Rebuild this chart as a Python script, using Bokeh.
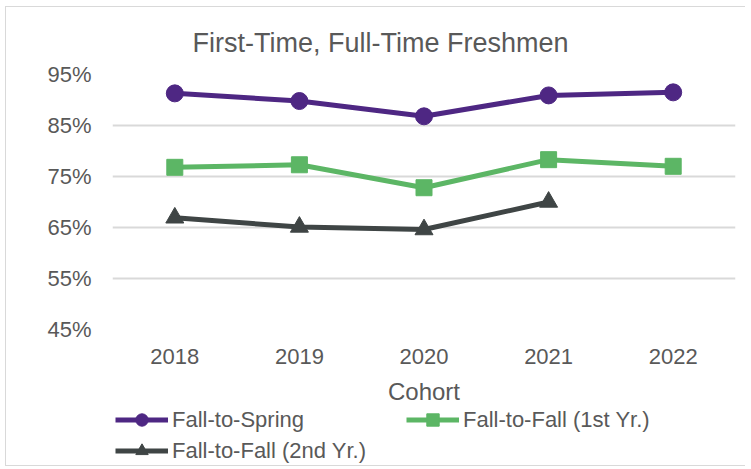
from bokeh.plotting import figure
from bokeh.layouts import column
from bokeh.models import (Legend, LegendItem, FixedTicker, PrintfTickFormatter, Title)
from bokeh.embed import file_html
from bokeh.resources import INLINE

cohorts = ["2018", "2019", "2020", "2021", "2022"]
fall_to_spring = [91.3, 89.8, 86.8, 90.9, 91.5]
fall_to_fall_1st = [76.8, 77.3, 72.8, 78.3, 77.0]
cohorts_2nd = ["2018", "2019", "2020", "2021"]
fall_to_fall_2nd = [66.9, 65.1, 64.6, 70.0]
y_ticks = [45, 55, 65, 75, 85, 95]
series_names = ["Fall-to-Spring", "Fall-to-Fall (1st Yr.)", "Fall-to-Fall (2nd Yr.)"]

FONT = "Liberation Sans"
TXT = "#595959"
GRID = "#d9d9d9"
PURPLE = "#4e2783"
GREEN = "#5cb665"
DARK = "#3f4545"

p = figure(frame_width=623, frame_height=255, x_range=cohorts, y_range=(45, 95),
           output_backend="svg", toolbar_location=None,
           min_border_left=106, min_border_right=10, min_border_top=67,
           min_border_bottom=0)
p.outline_line_color = None
p.background_fill_color = "white"
p.border_fill_color = "white"

p.title = Title(text="First-Time, Full-Time Freshmen", align="left",
                offset=80, standoff=34, text_font=FONT, text_font_size="27px",
                text_font_style="normal", text_color=TXT)

# axes
p.xaxis.axis_line_color = None
p.xaxis.major_tick_line_color = None
p.xaxis.minor_tick_line_color = None
p.xaxis.major_label_text_font = FONT
p.xaxis.major_label_text_font_size = "22px"
p.xaxis.major_label_text_color = TXT
p.xaxis.major_label_standoff = 13
p.xaxis.axis_label = "Cohort"
p.xaxis.axis_label_text_font = FONT
p.xaxis.axis_label_text_font_size = "24px"
p.xaxis.axis_label_text_font_style = "normal"
p.xaxis.axis_label_text_color = TXT
p.xaxis.axis_label_standoff = 11

p.yaxis.axis_line_color = None
p.yaxis.major_tick_line_color = None
p.yaxis.minor_tick_line_color = None
p.yaxis.ticker = FixedTicker(ticks=y_ticks)
p.yaxis.formatter = PrintfTickFormatter(format="%d%%")
p.yaxis.major_label_text_font = FONT
p.yaxis.major_label_text_font_size = "22px"
p.yaxis.major_label_text_color = TXT
p.yaxis.major_label_standoff = 15

p.xgrid.grid_line_color = None
p.ygrid.grid_line_color = GRID
p.ygrid.grid_line_width = 2
p.ygrid.ticker = FixedTicker(ticks=y_ticks)

series = [
    (cohorts, fall_to_spring, PURPLE, "circle", 17),
    (cohorts, fall_to_fall_1st, GREEN, "square", 16),
    (cohorts_2nd, fall_to_fall_2nd, DARK, "triangle", 18),
]
for xs, ys, col, mk, sz in series:
    p.line(xs, ys, line_color=col, line_width=5)
    p.scatter(xs, ys, marker=mk, size=sz, fill_color=col, line_color=col)

# legend strip below the chart
p2 = figure(width=739, height=58, x_range=cohorts, y_range=(45, 95),
            output_backend="svg", toolbar_location=None,
            x_axis_type=None, y_axis_type=None,
            min_border_left=0, min_border_right=0, min_border_top=0,
            min_border_bottom=0)
p2.outline_line_color = None
p2.grid.visible = False
p2.background_fill_color = "white"
p2.border_fill_color = "white"

items = []
for (xs, ys, col, mk, sz), name in zip(series, series_names):
    lr = p2.line(xs, ys, line_color=col, line_width=5, visible=False)
    sr = p2.scatter(xs, ys, marker=mk, size=sz, fill_color=col, line_color=col,
                    visible=False)
    items.append(LegendItem(label=name, renderers=[lr, sr]))

legend = Legend(items=items, orientation="horizontal", ncols=2,
                location=(3, -1), padding=0, margin=0, spacing=0,
                glyph_width=53, glyph_height=31, label_height=20,
                label_width=234, label_standoff=4,
                label_text_font=FONT, label_text_font_size="22px",
                label_text_color=TXT, border_line_color=None,
                background_fill_alpha=0)
p2.add_layout(legend, "center")

layout = column(p, p2, spacing=0)
layout.styles = {"border-left": "1px solid #d9d9d9", "border-top": "1px solid #d9d9d9",
                 "border-bottom": "1px solid #d9d9d9",
                 "margin-left": "5px", "margin-top": "6px"}

open("out.html", "w").write(file_html(layout, INLINE))
